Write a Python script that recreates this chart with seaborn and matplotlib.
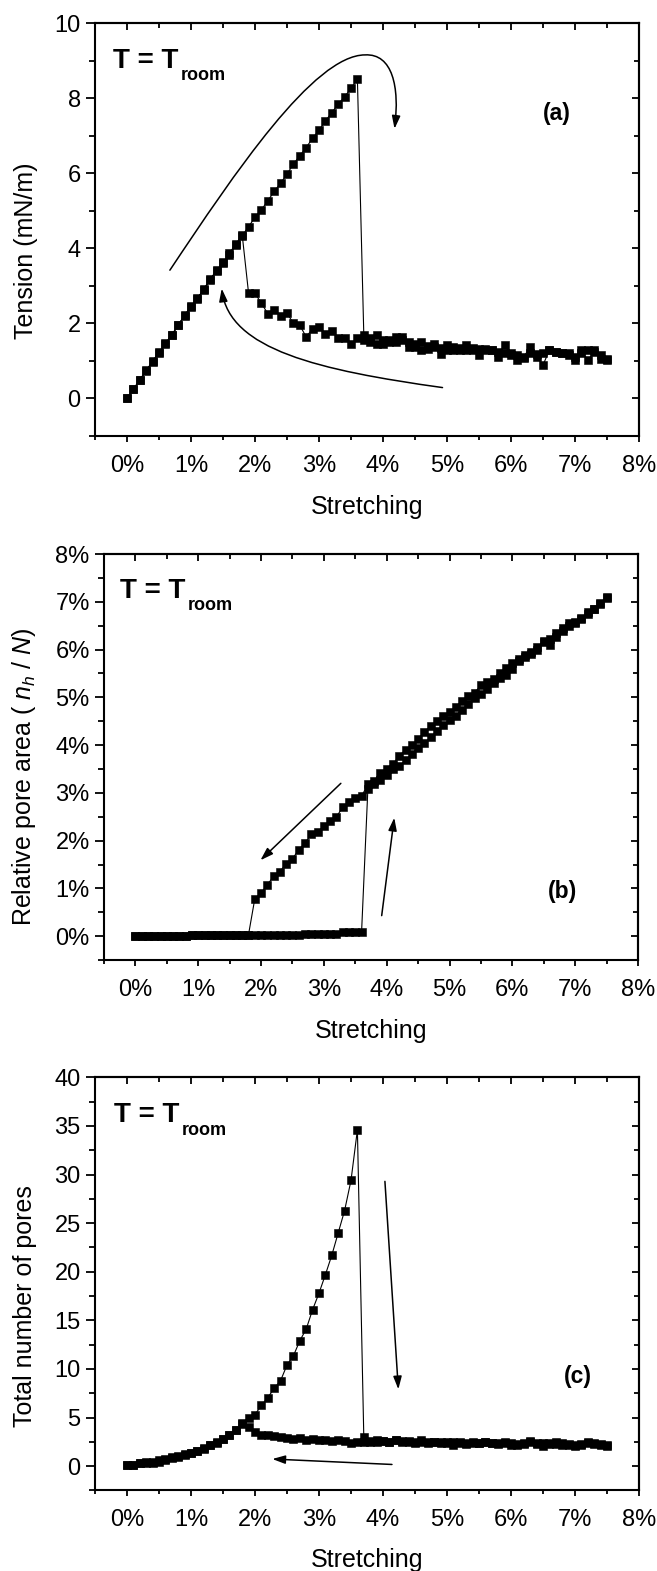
import matplotlib
matplotlib.use("Agg")
import matplotlib.pyplot as plt
from matplotlib.ticker import MultipleLocator, FuncFormatter
from matplotlib.patches import FancyArrowPatch
from matplotlib.path import Path
import pandas as pd
import seaborn as sns

# Stretching steps (%) of one load / unload cycle
STRAIN = [0.0, 0.1, 0.2, 0.3, 0.4, 0.5, 0.6, 0.7, 0.8, 0.9,
          1.0, 1.1, 1.2, 1.3, 1.4, 1.5, 1.6, 1.7, 1.8, 1.9,
          2.0, 2.1, 2.2, 2.3, 2.4, 2.5, 2.6, 2.7, 2.8, 2.9,
          3.0, 3.1, 3.2, 3.3, 3.4, 3.5, 3.6, 3.7, 3.8, 3.9,
          4.0, 4.1, 4.2, 4.3, 4.4, 4.5, 4.6, 4.7, 4.8, 4.9,
          5.0, 5.1, 5.2, 5.3, 5.4, 5.5, 5.6, 5.7, 5.8, 5.9,
          6.0, 6.1, 6.2, 6.3, 6.4, 6.5, 6.6, 6.7, 6.8, 6.9,
          7.0, 7.1, 7.2, 7.3, 7.4, 7.5]

# (a) tension, mN/m
# stretching 0.0 -> 3.6
TENSION_LOAD = [0.0, 0.24, 0.49, 0.74, 0.98, 1.24, 1.45, 1.68, 1.95, 2.2,
                2.45, 2.68, 2.9, 3.15, 3.4, 3.63, 3.83, 4.08, 4.34, 4.58,
                4.83, 5.03, 5.27, 5.52, 5.74, 5.98, 6.25, 6.47, 6.69, 6.94,
                7.15, 7.4, 7.62, 7.85, 8.04, 8.27, 8.51]
# stretching 3.7 -> 7.5 (after pore opening)
TENSION_OPEN = [1.70, 1.50, 1.68, 1.46, 1.55, 1.64, 1.64, 1.37, 1.37, 1.50,
                1.33, 1.37, 1.18, 1.42, 1.37, 1.29, 1.42, 1.29, 1.15, 1.33,
                1.29, 1.11, 1.42, 1.15, 1.02, 1.11, 1.37, 1.11, 0.89, 1.29,
                1.24, 1.20, 1.20, 1.02, 1.29, 1.02, 1.24, 1.06, 1.02]
# compression 7.5 -> 1.9
TENSION_UNLOAD = [1.05, 1.15, 1.3, 1.3, 1.2, 1.1, 1.15, 1.2, 1.25, 1.28,
                  1.2, 1.18, 1.2, 1.08, 1.15, 1.2, 1.2, 1.25, 1.3, 1.28,
                  1.32, 1.35, 1.3, 1.35, 1.28, 1.3, 1.35, 1.45, 1.4, 1.3,
                  1.45, 1.5, 1.55, 1.5, 1.5, 1.55, 1.45, 1.6, 1.55,
                  1.6, 1.46, 1.6, 1.6, 1.79, 1.73, 1.9, 1.86, 1.64, 1.95,
                  2.0, 2.28, 2.2, 2.35, 2.26, 2.54, 2.8, 2.8]
# compression 1.8 -> 0.0 (after pore closing)
TENSION_CLOSED = [4.36, 4.12, 3.87, 3.62, 3.42, 3.18, 2.92, 2.66, 2.46, 2.22,
                  1.96, 1.7, 1.47, 1.22, 0.99, 0.75, 0.5, 0.25, 0.01]

# (b) relative pore area, %
AREA_LOAD = [0, 0, 0, 0, 0, 0, 0, 0, 0,
             0.02, 0.02, 0.02, 0.02, 0.02, 0.02, 0.02, 0.02, 0.02, 0.02,
             0.03, 0.03, 0.03, 0.03, 0.03, 0.03, 0.03, 0.03,
             0.05, 0.05, 0.05, 0.05, 0.05, 0.05,
             0.09, 0.09, 0.09, 0.09]
AREA_OPEN = [3.08, 3.18, 3.27, 3.38, 3.50, 3.56, 3.68, 3.82, 3.95, 4.05,
             4.16, 4.30, 4.42, 4.53, 4.62, 4.74, 4.87, 4.99, 5.07, 5.18,
             5.31, 5.41, 5.47, 5.59, 5.76, 5.85, 5.90, 6.00, 6.15, 6.10,
             6.26, 6.40, 6.50, 6.56, 6.64, 6.75, 6.86, 6.98, 7.10]
AREA_UNLOAD = [7.08, 6.95, 6.85, 6.78, 6.66, 6.58, 6.55, 6.45, 6.35, 6.22,
               6.18, 6.05, 5.95, 5.88, 5.8, 5.72, 5.62, 5.52, 5.38, 5.33,
               5.25, 5.1, 5.03, 4.93, 4.8, 4.7, 4.6, 4.5, 4.4, 4.28,
               4.12, 4.0, 3.9, 3.78, 3.6, 3.5, 3.42, 3.25, 3.18,
               2.93, 2.9, 2.8, 2.7, 2.5, 2.42, 2.3, 2.18, 2.13, 1.95,
               1.81, 1.62, 1.52, 1.35, 1.25, 1.08, 0.9, 0.78]
AREA_CLOSED = [0.03, 0.02, 0.02, 0.02, 0.02, 0.02, 0.02, 0.02, 0.02, 0.02,
               0.01, 0, 0, 0, 0, 0, 0, 0, 0]

# (c) total number of pores
PORES_LOAD = [0.1, 0.1, 0.28, 0.35, 0.35, 0.45, 0.63, 0.8, 0.9, 1.15,
              1.4, 1.6, 1.85, 2.2, 2.45, 2.8, 3.25, 3.75, 4.4, 5.0,
              5.3, 6.25, 7.05, 8.0, 8.8, 10.4, 11.35, 12.9, 14.1, 16.1,
              17.8, 19.7, 21.7, 24.0, 26.3, 29.4, 34.6]
PORES_OPEN = [3.0, 2.5, 2.7, 2.6, 2.5, 2.7, 2.6, 2.5, 2.4, 2.7,
              2.5, 2.5, 2.4, 2.5, 2.2, 2.5, 2.4, 2.5, 2.4, 2.5,
              2.4, 2.4, 2.5, 2.2, 2.3, 2.3, 2.6, 2.4, 2.1, 2.4,
              2.3, 2.2, 2.2, 2.2, 2.3, 2.4, 2.3, 2.2, 2.2]
PORES_UNLOAD = [2.1, 2.3, 2.4, 2.5, 2.2, 2.1, 2.3, 2.4, 2.5, 2.3,
                2.4, 2.3, 2.5, 2.4, 2.2, 2.4, 2.4, 2.3, 2.4, 2.5,
                2.4, 2.4, 2.3, 2.4, 2.5, 2.4, 2.5, 2.5, 2.4, 2.5,
                2.5, 2.6, 2.5, 2.7, 2.5, 2.6, 2.5, 2.6, 2.5,
                2.5, 2.4, 2.6, 2.65, 2.6, 2.7, 2.65, 2.8, 2.7, 2.9,
                2.8, 2.9, 3.0, 3.1, 3.2, 3.25, 3.5, 4.0]
PORES_CLOSED = [4.3, 3.7, 3.2, 2.75, 2.4, 2.15, 1.8, 1.6, 1.35, 1.2,
                1.0, 0.9, 0.75, 0.6, 0.45, 0.4, 0.3, 0.15, 0.1]

PANEL_TAGS = ["(a)", "(b)", "(c)"]
Y_LABELS = ["Tension (mN/m)", r"Relative pore area ( $n_h$ / $N$)",
            "Total number of pores"]
X_LABEL = "Stretching"


def cycle_frame(load, opened, unload, closed):
    """Put one stretching cycle in the order it was measured."""
    strain = STRAIN[:37] + STRAIN[37:] + STRAIN[75:18:-1] + STRAIN[18::-1]
    values = load + opened + unload + closed
    assert len(strain) == len(values)
    return pd.DataFrame({"strain": strain, "value": values})


sns.set_theme(style="ticks")
plt.rcParams.update({
    "font.family": ["Liberation Sans", "DejaVu Sans"],
    "mathtext.fontset": "custom",
    "mathtext.rm": "Liberation Sans",
    "mathtext.it": "Liberation Sans:italic",
    "mathtext.bf": "Liberation Sans:bold",
    "axes.edgecolor": "black",
    "axes.labelcolor": "black",
    "text.color": "black",
    "xtick.color": "black",
    "ytick.color": "black",
    "axes.linewidth": 1.5,
})

fig = plt.figure(figsize=(6.57, 15.71), dpi=100)
ax_a = fig.add_axes([0.1446, 0.7225, 0.828, 0.2626])
ax_b = fig.add_axes([0.1583, 0.3889, 0.8128, 0.2584])
ax_c = fig.add_axes([0.1446, 0.0513, 0.828, 0.2629])

pct = FuncFormatter(lambda v, p: f"{v:.0f}%")


def style_axes(ax, ylim, ymajor, yminor, xpad, yfmt=None):
    ax.set_xlim(-0.5, 8)
    ax.set_ylim(*ylim)
    ax.xaxis.set_major_locator(MultipleLocator(1))
    ax.xaxis.set_minor_locator(MultipleLocator(0.5))
    ax.yaxis.set_major_locator(MultipleLocator(ymajor))
    ax.yaxis.set_minor_locator(MultipleLocator(yminor))
    ax.xaxis.set_major_formatter(pct)
    if yfmt is not None:
        ax.yaxis.set_major_formatter(yfmt)
    ax.tick_params(axis="x", which="major", direction="out", length=4.5,
                   width=1.3, pad=xpad, labelsize=17)
    ax.tick_params(axis="x", which="minor", direction="out", length=3,
                   width=1.3)
    ax.tick_params(axis="y", which="major", direction="out", length=6.5,
                   width=1.3, pad=3.8, labelsize=17)
    ax.tick_params(axis="y", which="minor", direction="out", length=4,
                   width=1.3)
    top = ax.secondary_xaxis("top")
    top.xaxis.set_major_locator(MultipleLocator(1))
    top.xaxis.set_minor_locator(MultipleLocator(0.5))
    top.tick_params(which="both", direction="in", labeltop=False, width=1.3)
    top.tick_params(which="major", length=5.3)
    top.tick_params(which="minor", length=3.6)
    right = ax.secondary_yaxis("right")
    right.yaxis.set_major_locator(MultipleLocator(ymajor))
    right.yaxis.set_minor_locator(MultipleLocator(yminor))
    right.tick_params(which="both", direction="in", labelright=False, width=1.3)
    right.tick_params(which="major", length=5.3)
    right.tick_params(which="minor", length=3.6)


def draw_cycle(ax, df, msize):
    sns.lineplot(data=df, x="strain", y="value", sort=False, estimator=None,
                 color="black", lw=0.8, marker="s", markersize=msize,
                 markerfacecolor="black", markeredgecolor="black",
                 markeredgewidth=0.4, ax=ax)


def room_label(ax, x, y, sub_dy):
    t = ax.text(x, y, "T = T", transform=ax.transAxes, fontsize=20,
                fontweight="bold", ha="left", va="baseline")
    ax.annotate("room", xy=(1, 0), xycoords=t, xytext=(1.5, sub_dy),
                textcoords="offset points", fontsize=13, fontweight="bold",
                ha="left", va="baseline")


HEAD = "-|>,head_length=0.55,head_width=0.18"


def path_arrow(ax, verts):
    codes = [Path.MOVETO] + [Path.CURVE4] * (len(verts) - 1)
    ax.add_patch(FancyArrowPatch(path=Path(verts, codes), arrowstyle=HEAD,
                                 mutation_scale=14, lw=1.1, color="black",
                                 transform=ax.transData))


def line_arrow(ax, start, end):
    ax.add_patch(FancyArrowPatch(start, end, arrowstyle=HEAD,
                                 mutation_scale=14, lw=1.1, color="black",
                                 shrinkA=0, shrinkB=0))


# (a) tension
draw_cycle(ax_a, cycle_frame(TENSION_LOAD, TENSION_OPEN, TENSION_UNLOAD,
                             TENSION_CLOSED), 6.2)
style_axes(ax_a, (-1, 10), 2, 1, xpad=9)
path_arrow(ax_a, [(0.67, 3.42), (1.67, 5.98), (2.92, 9.16), (3.72, 9.16),
                  (4.15, 9.2), (4.26, 8.3), (4.18, 7.19)])
path_arrow(ax_a, [(4.93, 0.29), (3.0, 0.75), (1.6, 1.3), (1.48, 2.93)])
room_label(ax_a, 0.033, 0.892, -4.5)
ax_a.text(6.72, 7.6, PANEL_TAGS[0], fontsize=16.5, fontweight="bold",
          ha="center", va="center")
ax_a.set_ylabel(Y_LABELS[0], fontsize=18)
ax_a.yaxis.set_label_coords(-0.105, 0.45)
ax_a.set_xlabel(X_LABEL, fontsize=18)
ax_a.xaxis.set_label_coords(0.5, -0.143)

# (b) relative pore area
draw_cycle(ax_b, cycle_frame(AREA_LOAD, AREA_OPEN, AREA_UNLOAD, AREA_CLOSED),
           6.2)
style_axes(ax_b, (-0.5, 8), 1, 0.5, xpad=9, yfmt=pct)
line_arrow(ax_b, (3.27, 3.2), (1.99, 1.59))
line_arrow(ax_b, (3.92, 0.43), (4.12, 2.48))
room_label(ax_b, 0.030, 0.892, -4.5)
ax_b.text(6.8, 0.93, PANEL_TAGS[1], fontsize=16.5, fontweight="bold",
          ha="center", va="center")
ax_b.set_ylabel(Y_LABELS[1], fontsize=18)
ax_b.yaxis.set_label_coords(-0.1236, 0.452)
ax_b.set_xlabel(X_LABEL, fontsize=18)
ax_b.xaxis.set_label_coords(0.5, -0.146)

# (c) number of pores
draw_cycle(ax_c, cycle_frame(PORES_LOAD, PORES_OPEN, PORES_UNLOAD,
                             PORES_CLOSED), 5.6)
style_axes(ax_c, (-2.5, 40), 5, 2.5, xpad=9)
line_arrow(ax_c, (4.03, 29.3), (4.24, 7.9))
line_arrow(ax_c, (4.14, 0.17), (2.27, 0.73))
room_label(ax_c, 0.035, 0.893, -5.5)
ax_c.text(7.05, 9.27, PANEL_TAGS[2], fontsize=16.5, fontweight="bold",
          ha="center", va="center")
ax_c.set_ylabel(Y_LABELS[2], fontsize=18)
ax_c.yaxis.set_label_coords(-0.107, 0.447)
ax_c.set_xlabel(X_LABEL, fontsize=18)
ax_c.xaxis.set_label_coords(0.5, -0.139)

fig.savefig("out.png", dpi=100)
